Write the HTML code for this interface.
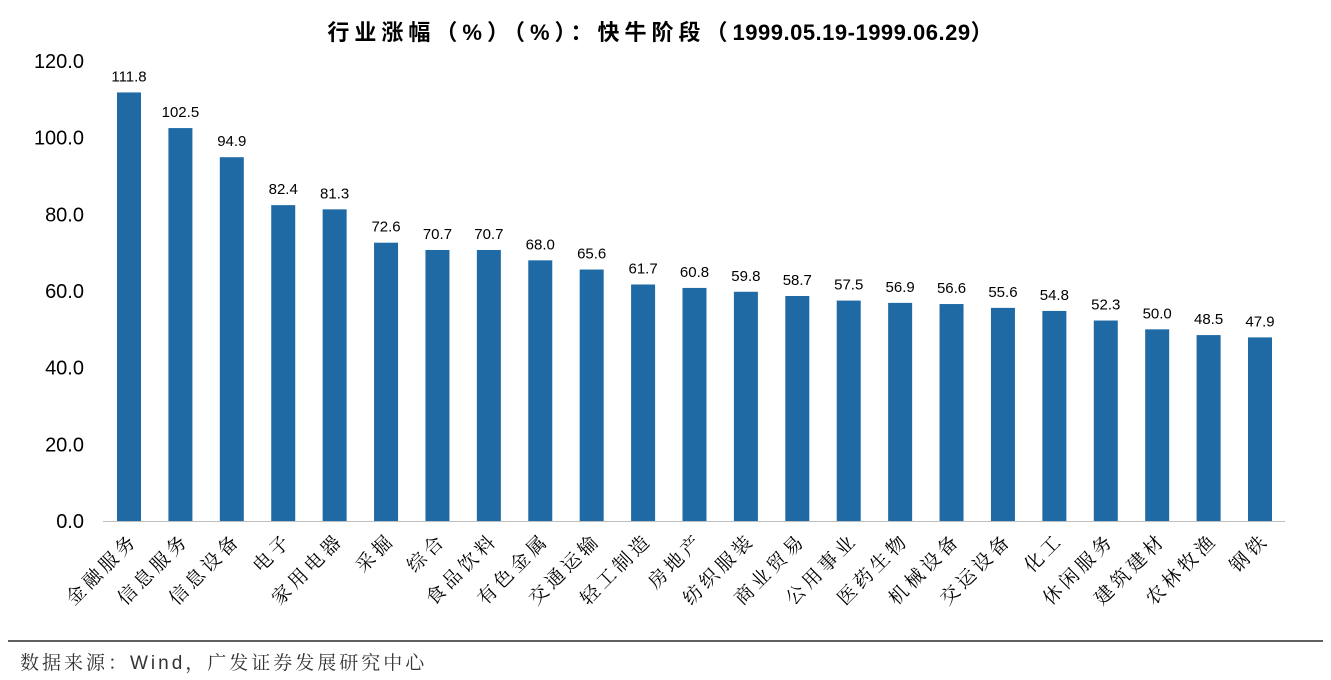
<!DOCTYPE html>
<html><head><meta charset="utf-8"><style>
body{margin:0;background:#fff;width:1331px;height:680px;overflow:hidden}
svg{display:block}
</style></head><body>
<svg id="chart" width="1331" height="680" font-family="'Liberation Sans','Noto Sans CJK SC',sans-serif">
<text x="660" y="40" text-anchor="middle" font-size="22" font-weight="bold" fill="#000"><tspan letter-spacing="5">行业涨幅（%）（%）：快牛阶段（</tspan><tspan letter-spacing="0.5">1999.05.19-1999.06.29</tspan><tspan>）</tspan></text>
<g id="yaxis"></g>
<g id="bars"></g>
<g id="xlabels"></g>
<line x1="103" y1="521.5" x2="1285" y2="521.5" stroke="#bfbfbf" stroke-width="1"/>
<line x1="8" y1="641" x2="1323" y2="641" stroke="#000" stroke-width="1.2"/>
<text x="20" y="669" font-size="19" fill="#333" letter-spacing="3" font-family="'Liberation Sans','Noto Serif CJK SC',serif">数据来源：Wind，广发证券发展研究中心</text>
</svg>
<script>
const categories=["金融服务","信息服务","信息设备","电子","家用电器","采掘","综合","食品饮料","有色金属","交通运输","轻工制造","房地产","纺织服装","商业贸易","公用事业","医药生物","机械设备","交运设备","化工","休闲服务","建筑建材","农林牧渔","钢铁"];
const values=[111.8,102.5,94.9,82.4,81.3,72.6,70.7,70.7,68.0,65.6,61.7,60.8,59.8,58.7,57.5,56.9,56.6,55.6,54.8,52.3,50.0,48.5,47.9];
const yTicks=[0,20,40,60,80,100,120];
const NS="http://www.w3.org/2000/svg";
const y0=521,yTop=61,yMax=120;
const y=v=>y0-(v/yMax)*(y0-yTop);
const xStart=129,xEnd=1260;
const x=i=>xStart+i*(xEnd-xStart)/(categories.length-1);
const bw=24;
function mk(tag,attrs,parent){const e=document.createElementNS(NS,tag);for(const k in attrs)e.setAttribute(k,attrs[k]);parent.appendChild(e);return e;}
const ya=document.getElementById('yaxis'),bg=document.getElementById('bars'),xl=document.getElementById('xlabels');
yTicks.forEach(t=>{
 const e=mk('text',{x:84,y:y(t)+7,'text-anchor':'end','font-size':20,fill:'#000'},ya);
 e.textContent=t.toFixed(1);
 
 
});
values.forEach((v,i)=>{
 const r=mk('rect',{x:x(i)-bw/2,y:y(v),width:bw,height:y0-y(v),fill:'#1f6aa5'},bg);
 
 
 const t=mk('text',{x:x(i),y:y(v)-11,'text-anchor':'middle','font-size':15,fill:'#000'},bg);
 t.textContent=v.toFixed(1);
 
 
 const l=mk('text',{x:0,y:0,'text-anchor':'end','font-size':19,'letter-spacing':4,fill:'#000','font-family':"'Liberation Serif','Noto Serif CJK SC',serif",transform:`translate(${x(i)+10},${y0+20}) rotate(-45)`},xl);
 l.textContent=categories[i];
 
 
});
</script>
</body></html>
